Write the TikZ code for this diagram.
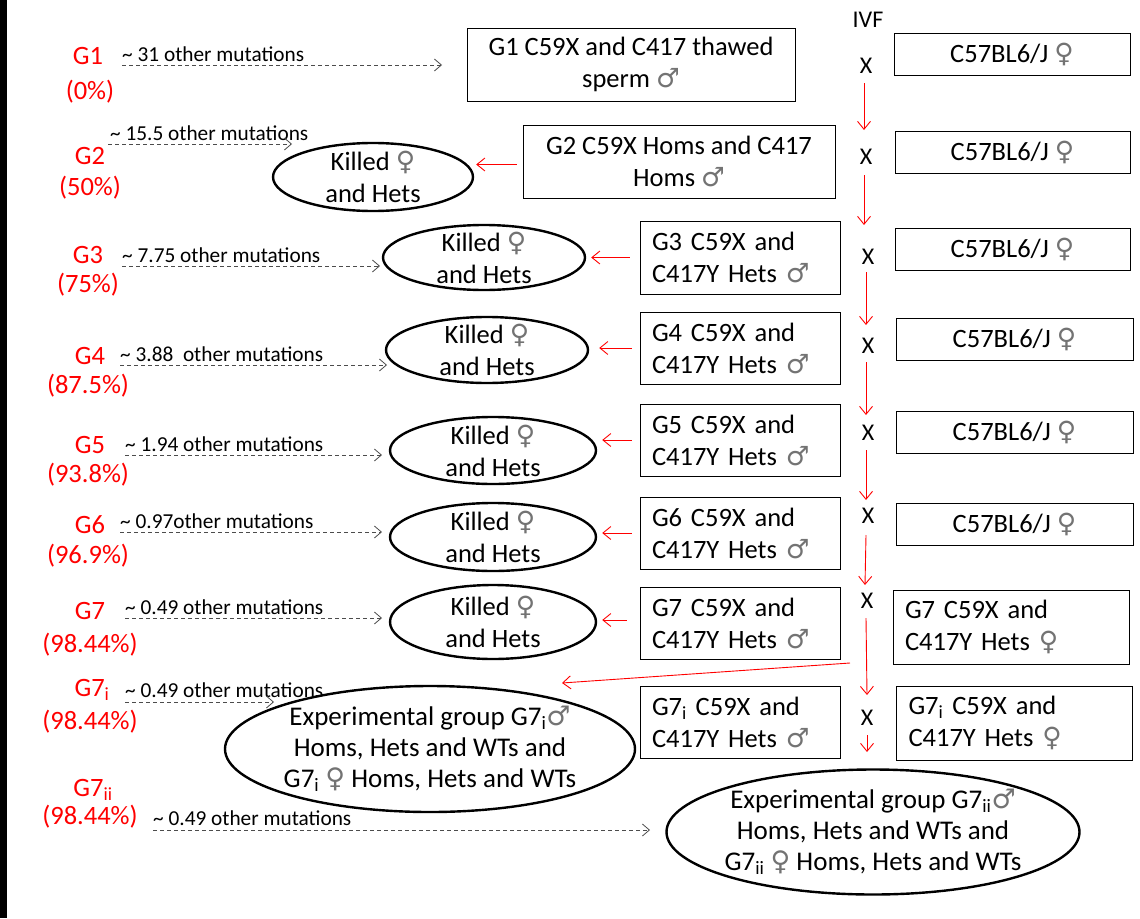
\documentclass[tikz,border=0pt]{standalone}
\usepackage{fontspec}
\setmainfont{Carlito}
\newfontfamily\symf{DejaVu Sans}
\usetikzlibrary{arrows.meta,shapes.geometric,calc}
\newcommand\ma{{\symf\color{black!55}♂}}
\newcommand\fe{{\symf\color{black!55}♀}}
\begin{document}
\begin{tikzpicture}[x=1pt,y=-1pt,
  glab/.style={text=red,font=\fontsize{26.5}{30}\selectfont,inner sep=0pt},
  mut/.style={font=\fontsize{21.3}{22}\selectfont,inner sep=0pt,anchor=base west},
  darr/.style={draw=black!70,line width=0.8pt,dash pattern=on 4pt off 3pt,-{Straight Barb[length=7pt,width=12pt]}},
  rarr/.style={draw=red,line width=0.9pt,-{Straight Barb[length=8pt,width=13pt]}},
  bx/.style={draw,line width=1pt,inner sep=0pt,font=\fontsize{26.5}{32}\selectfont},
  lbox/.style={bx,align=left,text width=#1,inner xsep=12pt},
  cbox/.style={bx,align=center},
  kell/.style={draw,ellipse,line width=2.4pt,inner xsep=-20pt,inner ysep=-20pt,align=center,font=\fontsize{26.5}{32}\selectfont},
  xm/.style={font=\fontsize{24}{24}\selectfont,inner sep=0pt}]
\useasboundingbox (0,0) rectangle (1140,918);
\fill[white] (0,0) rectangle (1140,918);
\fill[black] (0,0) rectangle (7,918);

% red generation labels
\node[glab] (g1) at (88,56) {G1};      \node[glab] (p1) at (90,92) {(0\%)};
\node[glab] (g2) at (90,156) {G2};     \node[glab] (p2) at (90,188) {(50\%)};
\node[glab] (g3) at (88,255) {G3};     \node[glab] (p3) at (88,285) {(75\%)};
\node[glab] (g4) at (90,356) {G4};     \node[glab] (p4) at (88,386) {(87.5\%)};
\node[glab] (g5) at (90,445) {G5};     \node[glab] (p5) at (88,475) {(93.8\%)};
\node[glab] (g6) at (90,525) {G6};     \node[glab] (p6) at (88,556) {(96.9\%)};
\node[glab] (g7) at (90,611) {G7};     \node[glab] (p7) at (90,645) {(98.44\%)};
\node[glab] (g7i) at (92,690) {G7\textsubscript{i}};   \node[glab] (p7i) at (90,722) {(98.44\%)};
\node[glab] (g7ii) at (93,790) {G7\textsubscript{ii}}; \node[glab] (p7ii) at (90,817) {(98.44\%)};

% mutation labels and dashed arrows
\coordinate (a1s) at (122,65);  \coordinate (a1e) at (442,65);
\coordinate (a2s) at (108,144); \coordinate (a2e) at (292,144);
\coordinate (a3s) at (122,266); \coordinate (a3e) at (380,266);
\coordinate (a4s) at (120,365); \coordinate (a4e) at (387,365);
\coordinate (a5s) at (125,455); \coordinate (a5e) at (382,455);
\coordinate (a6s) at (120,532); \coordinate (a6e) at (382,532);
\coordinate (a7s) at (125,618); \coordinate (a7e) at (382,618);
\coordinate (a8s) at (125,702); \coordinate (a8e) at (274,702);
\coordinate (a9s) at (153,830); \coordinate (a9e) at (650,830);
\node[mut] (m1) at ($(a1s)+(0,-4)$) {\textasciitilde\ 31 other mutations};
\node[mut] (m2) at ($(a2s)+(2,-4)$) {\textasciitilde\ 15.5 other mutations};
\node[mut] (m3) at ($(a3s)+(0,-4)$) {\textasciitilde\ 7.75 other mutations};
\node[mut] (m4) at ($(a4s)+(0,-4)$) {\textasciitilde\ 3.88\ \ other mutations};
\node[mut] (m5) at ($(a5s)+(0,-4)$) {\textasciitilde\ 1.94 other mutations};
\node[mut] (m6) at ($(a6s)+(0,-4)$) {\textasciitilde\ 0.97other mutations};
\node[mut] (m7) at ($(a7s)+(0,-4)$) {\textasciitilde\ 0.49 other mutations};
\node[mut] (m8) at ($(a8s)+(0,-5)$) {\textasciitilde\ 0.49 other mutations};
\node[mut] (m9) at ($(a9s)+(0,-5)$) {\textasciitilde\ 0.49 other mutations};
\foreach \i in {1,...,9} \draw[darr] (a\i s) -- (a\i e);

% male boxes
\node[cbox,minimum width=328,minimum height=73] (mb1) at (631,64.5) {G1 C59X and C417 thawed\\sperm \ma};
\node[cbox,minimum width=312,minimum height=73] (mb2) at (679,161.5) {G2 C59X Homs and C417\\Homs \ma};
\node[lbox=176,minimum height=73] (mb3) at (740,257.5) {G3 C59X and\\C417Y Hets \ma};
\node[lbox=176,minimum height=72] (mb4) at (740,348) {G4 C59X and\\C417Y Hets \ma};
\node[lbox=176,minimum height=72] (mb5) at (740,440) {G5 C59X and\\C417Y Hets \ma};
\node[lbox=176,minimum height=72] (mb6) at (740,533) {G6 C59X and\\C417Y Hets \ma};
\node[lbox=176,minimum height=72] (mb7) at (740,623) {G7 C59X and\\C417Y Hets \ma};
\node[lbox=176,minimum height=72] (mb8) at (740,722) {G7\textsubscript{i} C59X and\\C417Y Hets \ma};

% female boxes
\node[cbox,minimum width=236,minimum height=42] (fb1) at (1012,54) {C57BL6/J \fe};
\node[cbox,minimum width=235,minimum height=42] (fb2) at (1012.5,152) {C57BL6/J \fe};
\node[cbox,minimum width=235,minimum height=42] (fb3) at (1012.5,249) {C57BL6/J \fe};
\node[cbox,minimum width=237,minimum height=42] (fb4) at (1014.5,339) {C57BL6/J \fe};
\node[cbox,minimum width=237,minimum height=42] (fb5) at (1014.5,432) {C57BL6/J \fe};
\node[cbox,minimum width=237,minimum height=42] (fb6) at (1014.5,524) {C57BL6/J \fe};
\node[lbox=212,minimum height=74] (fb7) at (1011,627) {G7 C59X and\\C417Y Hets \fe};
\node[lbox=212,minimum height=74] (fb8) at (1014.5,723) {G7\textsubscript{i} C59X and\\C417Y Hets \fe};

% killed ellipses
\node[kell,minimum width=200,minimum height=68] (k2) at (373,177) {Killed \fe\\and Hets};
\node[kell,minimum width=202,minimum height=65] (k3) at (484,257.5) {Killed \fe\\and Hets};
\node[kell,minimum width=202,minimum height=66] (k4) at (487,350) {Killed \fe\\and Hets};
\node[kell,minimum width=206,minimum height=67] (k5) at (493,450.5) {Killed \fe\\and Hets};
\node[kell,minimum width=206,minimum height=68] (k6) at (493,537) {Killed \fe\\and Hets};
\node[kell,minimum width=206,minimum height=74] (k7) at (493,622) {Killed \fe\\and Hets};
\node[kell,minimum width=410,minimum height=126,font=\fontsize{27}{31}\selectfont] (e1) at (430,749)
  {Experimental group G7\textsubscript{i}\ma\\Homs, Hets and WTs and\\G7\textsubscript{i} \fe\ Homs, Hets and WTs};
\node[kell,minimum width=413,minimum height=125,font=\fontsize{27}{31}\selectfont] (e2) at (873,832)
  {Experimental group G7\textsubscript{ii}\ma\\Homs, Hets and WTs and\\G7\textsubscript{ii} \fe\ Homs, Hets and WTs};

% IVF and crosses
\node[xm] (ivf) at (868,20) {IVF};
\node[xm] (x1) at (866,66) {X};
\node[xm] (x2) at (866,157) {X};
\node[xm] (x3) at (868,257) {X};
\node[xm] (x4) at (868,346) {X};
\node[xm] (x5) at (868,433) {X};
\node[xm] (x6) at (868,516) {X};
\node[xm] (x7) at (867,601) {X};
\node[xm] (x8) at (867,718) {X};
\coordinate (x9) at (867,752);

% red vertical arrows
\draw[rarr] ($(x1)+(-2,17)$) -- ($(x2)+(-2,-27)$);
\draw[rarr] ($(x2)+(-2,18)$) -- ($(x3)+(-4,-32)$);
\draw[rarr] ($(x3)+(-2,15)$) -- ($(x4)+(-2,-21)$);
\draw[rarr] ($(x4)+(-2,16)$) -- ($(x5)+(-2,-18)$);
\draw[rarr] ($(x5)+(-2,17)$) -- ($(x6)+(-2,-16)$);
\draw[rarr] ($(x6)+(-2,19)$) -- ($(x7)+(-2,-16)$);
\draw[rarr] ($(x7)+(-1,17)$) -- ($(x8)+(0,-23)$);
\draw[rarr] ($(x8)+(0,17)$) -- (x9);

% red horizontal arrows
\draw[rarr] ($(mb2.west)+(-6,3)$) -- ($(mb2.west -| k2.east)+(2,3)$);
\draw[rarr,shorten <=10pt,shorten >=5pt] (mb3.west) -- (k3.east);
\draw[rarr,shorten <=8pt,shorten >=10pt] (mb4.west) -- (mb4.west -| k4.east);
\draw[rarr,shorten <=8pt,shorten >=5pt] (mb5.west) -- (mb5.west -| k5.east);
\draw[rarr,shorten <=8pt,shorten >=5pt] (mb6.west) -- (mb6.west -| k6.east);
\draw[rarr,shorten <=13pt,shorten >=5pt] ($(mb7.west)+(0,-3)$) -- ($(mb7.west -| k7.east)+(0,-3)$);
\coordinate (d1) at (850,663);
\coordinate (d2) at (562,683);
\draw[rarr] (d1) -- (d2);
\end{tikzpicture}
\end{document}
